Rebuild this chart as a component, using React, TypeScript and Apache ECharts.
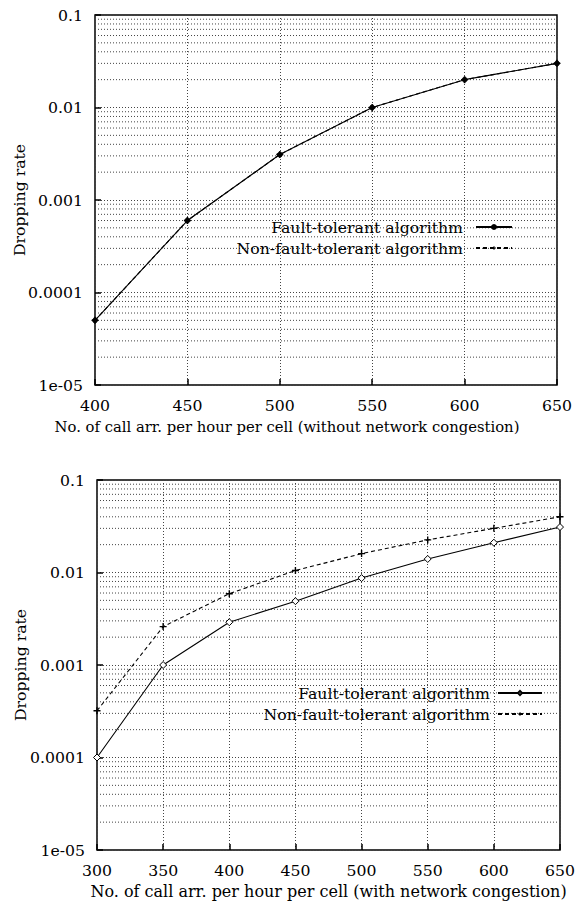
import React, { useEffect, useRef } from "react";
import * as echarts from "echarts";

const yTickLabels = ["1e-05", "0.0001", "0.001", "0.01", "0.1"];
const minorGridValues: number[] = [];
for (let e = -5; e < -1; e++) {
  for (let m = 2; m <= 9; m++) minorGridValues.push(Number((m * Math.pow(10, e)).toPrecision(2)));
}

const topX = [400, 450, 500, 550, 600, 650];
const topFault = [5e-5, 6e-4, 3.1e-3, 0.01, 0.02, 0.03];
const topNonFault = [5e-5, 6e-4, 3.1e-3, 0.01, 0.02, 0.03];

const botX = [300, 350, 400, 450, 500, 550, 600, 650];
const botFault = [1e-4, 1e-3, 2.9e-3, 4.9e-3, 8.7e-3, 0.014, 0.021, 0.031];
const botNonFault = [3.2e-4, 2.6e-3, 5.9e-3, 0.0105, 0.016, 0.0225, 0.03, 0.04];

const seriesNames = ["Fault-tolerant algorithm", "Non-fault-tolerant algorithm"];

const FONT = "DejaVu Serif";
const PLUS = "path://M4,0 L6,0 L6,4 L10,4 L10,6 L6,6 L6,10 L4,10 L4,6 L0,6 L0,4 L4,4 Z";

function pairs(xs: number[], ys: number[]) {
  return xs.map((x, i) => [x, ys[i]]);
}

function buildOption(cfg: any) {
  const gridStyle = { color: "#444", type: [1, 2], width: 1 };
  const txt = (size: number) => ({ fontFamily: FONT, fontSize: size, color: "#000", fontWeight: "normal" });
  const minorSeries = minorGridValues.map((v) => ({
    type: "line",
    silent: true,
    symbol: "none",
    data: [
      [cfg.xMin, v],
      [cfg.xMax, v],
    ],
    lineStyle: gridStyle,
    z: 1,
  }));
  return {
    animation: false,
    backgroundColor: "#fff",
    grid: {
      ...cfg.grid,
      outerBoundsMode: "none",
      containLabel: false,
      show: true,
      borderColor: "#000",
      borderWidth: 1.5,
      backgroundColor: "transparent",
    },
    legend: {
      ...cfg.legend,
      orient: "vertical",
      align: "right",
      itemHeight: 5,
      itemGap: 5,
      padding: 0,
      selectedMode: false,
      textStyle: { ...txt(15.7), padding: [0, cfg.legendPad, 0, 0] },
      data: seriesNames,
    },
    xAxis: {
      type: "value",
      min: cfg.xMin,
      max: cfg.xMax,
      interval: 50,
      name: cfg.xName,
      nameLocation: "middle",
      nameGap: cfg.xNameGap,
      nameMoveOverlap: false,
      nameTextStyle: { ...txt(cfg.xNameSize), padding: cfg.xNamePad },
      axisLine: { show: false },
      axisTick: { show: true, inside: true, length: 6, lineStyle: { color: "#000", width: 1.5 } },
      axisLabel: { ...txt(15.7), margin: 12 },
      splitLine: { show: true, lineStyle: gridStyle },
    },
    yAxis: {
      type: "log",
      logBase: 10,
      min: 1e-5,
      max: 0.1,
      name: "Dropping rate",
      nameLocation: "middle",
      nameGap: cfg.yNameGap,
      nameMoveOverlap: false,
      nameRotate: 90,
      nameTextStyle: txt(15.7),
      axisLine: { show: false },
      axisTick: { show: true, inside: true, length: 6, lineStyle: { color: "#000", width: 1.5 } },
      axisLabel: {
        ...txt(15.7),
        margin: 12,
        formatter: (v: number) => yTickLabels[Math.round(Math.log10(v)) + 5] ?? "",
      },
      splitLine: { show: true, lineStyle: gridStyle },
    },
    series: [
      ...minorSeries,
      {
        name: seriesNames[1],
        type: "line",
        data: pairs(cfg.xs, cfg.nonFault),
        symbol: PLUS,
        symbolSize: 7,
        itemStyle: { color: "#000" },
        lineStyle: { color: "#000", width: 1.1, type: [4, 3] },
        z: 3,
      },
      {
        name: seriesNames[0],
        type: "line",
        data: pairs(cfg.xs, cfg.fault),
        symbol: cfg.faultSymbol,
        symbolSize: cfg.faultSize,
        itemStyle: { color: cfg.faultFill, borderColor: "#000", borderWidth: 1 },
        lineStyle: { color: "#000", width: 1.1 },
        z: 4,
      },
    ],
  };
}

function Chart({ option, top }: { option: any; top: number }) {
  const ref = useRef<HTMLDivElement>(null);
  useEffect(() => {
    if (!ref.current) return;
    const chart = echarts.init(ref.current, undefined, { renderer: "svg" });
    chart.setOption(option);
    return () => chart.dispose();
  }, [option]);
  return <div ref={ref} style={{ position: "absolute", left: 0, top, width: 579, height: 452 }} />;
}

const topOption = buildOption({
  xs: topX,
  fault: topFault,
  nonFault: topNonFault,
  xMin: 400,
  xMax: 650,
  xName: "No. of call arr. per hour per cell (without network congestion)",
  xNameSize: 14.8,
  xNameGap: 34,
  xNamePad: [0, 78, 0, 0],
  yNameGap: 68,
  grid: { left: 95, right: 22, top: 15, bottom: 67 },
  legend: { right: 66, top: 219, itemWidth: 36 },
  legendPad: 8,
  faultSymbol: "circle",
  faultFill: "#000",
  faultSize: 5,
});

const bottomOption = buildOption({
  xs: botX,
  fault: botFault,
  nonFault: botNonFault,
  xMin: 300,
  xMax: 650,
  xName: "No. of call arr. per hour per cell (with network congestion)",
  xNameSize: 16,
  xNameGap: 33,
  xNamePad: 0,
  yNameGap: 69,
  grid: { left: 97, right: 19, top: 28, bottom: 54 },
  legend: { right: 36, top: 233, itemWidth: 44 },
  legendPad: 3,
  faultSymbol: "diamond",
  faultFill: "#fff",
  faultSize: 7,
});

export default function App() {
  return (
    <div style={{ position: "fixed", left: 0, top: 0, width: 579, height: 904, background: "#fff" }}>
      <Chart option={topOption} top={0} />
      <Chart option={bottomOption} top={452} />
    </div>
  );
}
